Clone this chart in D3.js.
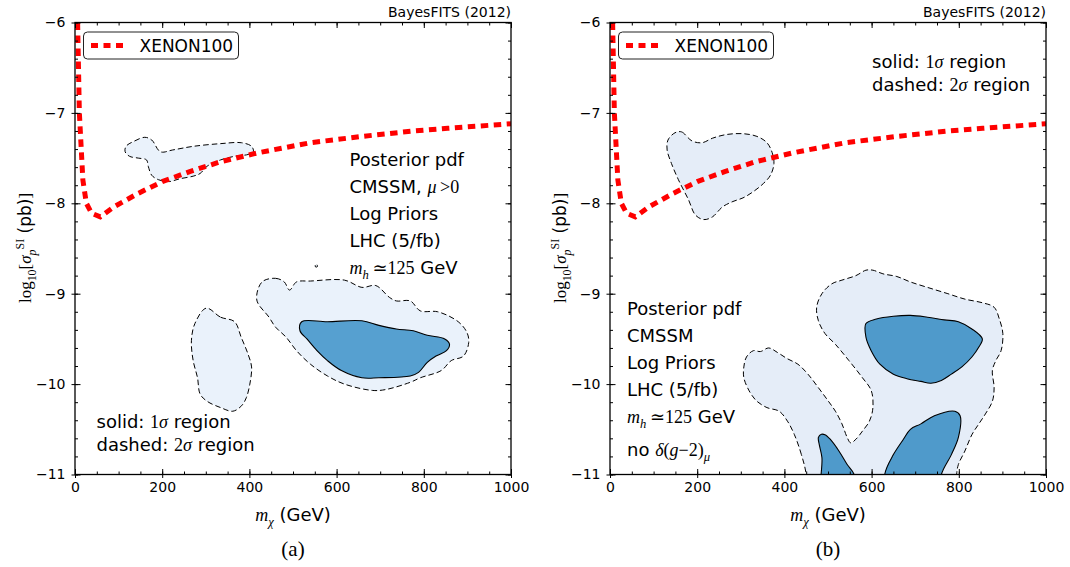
<!DOCTYPE html>
<html>
<head>
<meta charset="utf-8">
<script src="https://cdn.jsdelivr.net/npm/d3@7"></script>
<style>
  html, body { margin: 0; padding: 0; background: #fff; }
  svg { display: block; }
</style>
</head>
<body>
<svg id="fig" width="1070" height="567"></svg>
<script>
// ---- data -----------------------------------------------------------------
// XENON100 90% CL upper limit, log10(sigma_SI / pb) vs neutralino mass (GeV)
const xenonMass = [6, 10, 18, 26, 38, 58, 89, 145, 200, 263, 334, 421, 540, 658, 776, 855, 1000];
const xenonLogSigma = [-6.0, -7.0, -7.74, -8.0, -8.11, -8.15, -8.04, -7.89, -7.76, -7.65, -7.54, -7.44, -7.33, -7.26, -7.2, -7.17, -7.12];

// axis ticks
const xTickValues = [0, 200, 400, 600, 800, 1000];
const yTickValues = [-11, -10, -9, -8, -7, -6];

// panel (a): CMSSM, mu>0, log priors -- credible regions as [mass, log10 sigma]
const a2sigmaUpper = [[117,-7.37],[137,-7.31],[160,-7.27],[176,-7.30],[196,-7.43],[224,-7.41],[271,-7.37],[334,-7.34],[382,-7.33],[405,-7.37],[409,-7.43],[397,-7.46],[366,-7.48],[334,-7.52],[303,-7.59],[287,-7.67],[271,-7.70],[239,-7.73],[216,-7.76],[192,-7.74],[176,-7.69],[168,-7.59],[164,-7.52],[145,-7.50],[125,-7.48],[115,-7.43]];
const a2sigmaLeft = [[301,-9.16],[334,-9.26],[366,-9.31],[381,-9.48],[397,-9.67],[405,-9.81],[401,-10.0],[393,-10.15],[382,-10.24],[362,-10.30],[334,-10.26],[303,-10.19],[287,-10.11],[281,-9.93],[271,-9.74],[267,-9.52],[275,-9.33]];
const a2sigmaMain = [[429,-8.87],[460,-8.83],[480,-8.87],[492,-8.96],[508,-8.87],[540,-8.86],[618,-8.85],[658,-8.93],[690,-8.91],[721,-9.04],[737,-9.08],[769,-9.08],[792,-9.19],[832,-9.20],[879,-9.31],[899,-9.43],[903,-9.54],[891,-9.69],[863,-9.74],[840,-9.85],[792,-9.93],[769,-9.98],[713,-10.06],[682,-10.07],[618,-10.0],[579,-9.91],[540,-9.78],[508,-9.63],[484,-9.48],[460,-9.37],[445,-9.26],[417,-9.07]];
const a2sigmaSpeck = [[551,-8.685],[555,-8.68],[556,-8.70],[552,-8.705]];
const a1sigmaMain = [[520,-9.31],[579,-9.31],[658,-9.30],[697,-9.35],[737,-9.39],[776,-9.41],[808,-9.46],[848,-9.50],[859,-9.56],[852,-9.63],[828,-9.69],[808,-9.76],[788,-9.87],[769,-9.91],[697,-9.93],[658,-9.93],[611,-9.85],[579,-9.74],[555,-9.63],[532,-9.50],[516,-9.41]];

// panel (b): CMSSM, no (g-2)_mu constraint
const b2sigmaUpper = [[149,-7.22],[164,-7.21],[188,-7.31],[211,-7.33],[235,-7.28],[266,-7.24],[305,-7.23],[337,-7.26],[360,-7.33],[372,-7.44],[376,-7.56],[368,-7.69],[352,-7.78],[329,-7.87],[305,-7.94],[282,-7.98],[258,-8.04],[235,-8.15],[215,-8.18],[196,-8.13],[180,-7.96],[157,-7.74],[141,-7.56],[131,-7.41],[133,-7.30]];
const b2sigmaLower = [[450,-11.0],[439,-10.78],[423,-10.56],[407,-10.41],[388,-10.30],[360,-10.26],[337,-10.19],[321,-10.09],[307,-9.93],[307,-9.81],[313,-9.70],[329,-9.63],[345,-9.64],[364,-9.60],[384,-9.65],[407,-9.72],[431,-9.78],[454,-9.89],[478,-10.04],[501,-10.19],[517,-10.30],[532,-10.44],[544,-10.59],[552,-10.65],[564,-10.61],[579,-10.52],[595,-10.41],[603,-10.26],[599,-10.07],[579,-9.93],[548,-9.74],[517,-9.56],[493,-9.44],[478,-9.30],[474,-9.15],[486,-9.0],[509,-8.89],[532,-8.85],[564,-8.80],[587,-8.74],[603,-8.74],[626,-8.78],[658,-8.81],[689,-8.87],[728,-8.93],[775,-9.0],[814,-9.06],[854,-9.10],[881,-9.15],[893,-9.28],[901,-9.44],[897,-9.63],[885,-9.74],[877,-9.85],[881,-10.04],[877,-10.19],[861,-10.33],[846,-10.44],[830,-10.56],[814,-10.74],[799,-10.89],[795,-11.0],[792,-11.3],[620,-11.4],[452,-11.3]];
const b1sigmaUpper = [[587,-9.33],[611,-9.28],[650,-9.25],[689,-9.24],[728,-9.26],[767,-9.29],[799,-9.31],[830,-9.39],[854,-9.50],[846,-9.59],[830,-9.70],[807,-9.81],[783,-9.89],[760,-9.96],[736,-9.99],[713,-9.97],[681,-9.94],[650,-9.89],[619,-9.78],[599,-9.63],[587,-9.48]];
const b1sigmaLowLeft = [[478,-10.59],[485,-10.555],[493,-10.56],[505,-10.61],[525,-10.74],[544,-10.89],[560,-11.0],[566,-11.3],[490,-11.3],[486,-10.81],[480,-10.67]];
const b1sigmaLowRight = [[630,-11.0],[650,-10.78],[673,-10.61],[689,-10.50],[713,-10.44],[744,-10.35],[791,-10.30],[803,-10.35],[799,-10.59],[783,-10.78],[760,-11.0],[755,-11.3],[635,-11.3]];

// ---- styling ----------------------------------------------------------------
const SANS = "'DejaVu Sans', 'Bitstream Vera Sans', sans-serif";
const SERIF = "'Liberation Serif', 'DejaVu Serif', serif";
const FILL2 = ["#eaf2fb", "#e5edf8"];
const FILL1 = ["#56a0d0", "#4f9acb"];

const svg = d3.select("#fig");
svg.append("rect").attr("width", 1070).attr("height", 567).attr("fill", "#fff");

// Write a line of mixed sans / math text. parts: {t, f:'sans'|'serif', i:italic, sub, sup}
function richText(sel, x, y, parts, size, anchor) {
  const t = sel.append("text")
    .attr("x", x).attr("y", y)
    .attr("font-size", size)
    .attr("text-anchor", anchor || "start")
    .attr("fill", "#000");
  let cur = 0;
  parts.forEach(p => {
    const shift = p.sub ? size * 0.3 : p.sup ? -size * 0.42 : 0;
    t.append("tspan")
      .attr("dy", shift - cur)
      .attr("font-family", p.f === "serif" ? SERIF : SANS)
      .attr("font-style", p.i ? "italic" : "normal")
      .attr("font-size", (p.sub || p.sup) ? size * 0.7 : size)
      .text(p.t);
    cur = shift;
  });
  return t;
}

function drawPanel(opt) {
  const top = 22.5, bottom = 474.5;
  const x = d3.scaleLinear().domain([0, 1000]).range([opt.left, opt.right]);
  const y = d3.scaleLinear().domain([-11, -6]).range([bottom, top]);
  const g = svg.append("g");

  const clipId = "clip-" + opt.id;
  svg.append("clipPath").attr("id", clipId)
    .append("rect")
    .attr("x", opt.left).attr("y", top)
    .attr("width", opt.right - opt.left).attr("height", bottom - top);

  const plot = g.append("g").attr("clip-path", `url(#${clipId})`);

  const region = d3.line()
    .x(d => x(d[0])).y(d => y(d[1]))
    .curve(d3.curveCatmullRomClosed.alpha(0.5));

  // 2 sigma (dashed) regions
  opt.outer.forEach(r => {
    plot.append("path").attr("d", region(r))
      .attr("fill", opt.fill2)
      .attr("stroke", "#000").attr("stroke-width", 1)
      .attr("stroke-dasharray", "5.5,3");
  });
  // 1 sigma (solid) regions
  opt.inner.forEach(r => {
    plot.append("path").attr("d", region(r))
      .attr("fill", opt.fill1)
      .attr("stroke", "#000").attr("stroke-width", 1.1);
  });

  // XENON100 limit
  const limit = d3.line()
    .x((d, i) => x(xenonMass[i])).y(d => y(d));
  plot.append("path").attr("d", limit(xenonLogSigma))
    .attr("fill", "none").attr("stroke", "#ff0000")
    .attr("stroke-width", 5).attr("stroke-dasharray", "7.5,5.5");

  // axes: major ticks (labelled), minor ticks, mirrored ticks on top/right
  const axG = g.append("g").attr("font-family", SANS);
  const xMinor = d3.range(0, 1001, 50);
  const yMinor = d3.range(0, 26).map(i => -11 + i * 0.2);

  const fmtY = d => d3.format("d")(d).replace("-", "\u2212");

  axG.append("g").attr("transform", `translate(0,${bottom})`)
    .call(d3.axisBottom(x).tickValues(xMinor).tickSize(-3).tickFormat(""));
  axG.append("g").attr("transform", `translate(0,${bottom})`)
    .call(d3.axisBottom(x).tickValues(xTickValues).tickSize(-5.5).tickPadding(8).tickFormat(d3.format("d")));
  axG.append("g").attr("transform", `translate(0,${bottom})`)
    .call(d3.axisBottom(x).tickValues(xTickValues).tickSize(3.5).tickFormat(""));
  axG.append("g").attr("transform", `translate(0,${top})`)
    .call(d3.axisTop(x).tickValues(xMinor).tickSize(-3).tickFormat(""));
  axG.append("g").attr("transform", `translate(0,${top})`)
    .call(d3.axisTop(x).tickValues(xTickValues).tickSize(-5.5).tickFormat(""));

  axG.append("g").attr("transform", `translate(${opt.left},0)`)
    .call(d3.axisLeft(y).tickValues(yMinor).tickSize(-3).tickFormat(""));
  axG.append("g").attr("transform", `translate(${opt.left},0)`)
    .call(d3.axisLeft(y).tickValues(yTickValues).tickSize(-5.5).tickPadding(9.5).tickFormat(fmtY));
  axG.append("g").attr("transform", `translate(${opt.left},0)`)
    .call(d3.axisLeft(y).tickValues(yTickValues).tickSize(3.5).tickFormat(""));
  axG.append("g").attr("transform", `translate(${opt.right},0)`)
    .call(d3.axisRight(y).tickValues(yMinor).tickSize(-3).tickFormat(""));
  axG.append("g").attr("transform", `translate(${opt.right},0)`)
    .call(d3.axisRight(y).tickValues(yTickValues).tickSize(-5.5).tickFormat(""));

  axG.selectAll(".domain").remove();
  axG.selectAll(".tick line").attr("stroke", "#000").attr("stroke-width", 1);
  axG.selectAll(".tick text").attr("font-size", 14).attr("fill", "#000").attr("font-family", SANS);

  // frame
  g.append("rect")
    .attr("x", opt.left).attr("y", top)
    .attr("width", opt.right - opt.left).attr("height", bottom - top)
    .attr("fill", "none").attr("stroke", "#000").attr("stroke-width", 1.3);

  // top-right tag
  g.append("text").attr("x", opt.right).attr("y", 17)
    .attr("text-anchor", "end").attr("font-family", SANS).attr("font-size", 14)
    .text("BayesFITS (2012)");

  // legend
  const lx = opt.left + 8.5;
  g.append("rect").attr("x", lx).attr("y", 32).attr("width", 155).attr("height", 27)
    .attr("rx", 4).attr("fill", "#fff").attr("stroke", "#222").attr("stroke-width", 1);
  g.append("line").attr("x1", lx + 7.5).attr("x2", lx + 43).attr("y1", 45.5).attr("y2", 45.5)
    .attr("stroke", "#ff0000").attr("stroke-width", 5).attr("stroke-dasharray", "7,5.5");
  g.append("text").attr("x", lx + 56).attr("y", 52)
    .attr("font-family", SANS).attr("font-size", 17).text("XENON100");

  // axis titles
  richText(g, (opt.left + opt.right) / 2, 521,
    [{t: "m", f: "serif", i: true}, {t: "\u03c7", f: "serif", i: true, sub: true}, {t: " (GeV)", f: "sans"}], 18, "middle");

  const yl = g.append("g").attr("transform", `translate(${opt.left - 44},248) rotate(-90)`);
  richText(yl, 0, 0, [
    {t: "log", f: "serif"}, {t: "10", f: "serif", sub: true}, {t: "[", f: "serif"},
    {t: "\u03c3", f: "serif", i: true}, {t: "p", f: "serif", i: true, sub: true},
    {t: "SI", f: "serif", sup: true}, {t: "  (pb)", f: "sans"}, {t: "]", f: "serif"}
  ], 17, "middle");

  // caption
  g.append("text").attr("x", (opt.left + opt.right) / 2).attr("y", 556)
    .attr("text-anchor", "middle").attr("font-family", SERIF).attr("font-size", 21)
    .text(opt.caption);

  opt.annotate(g);
}

const sigmaLines = [
  [{t: "solid: ", f: "sans"}, {t: "1", f: "serif"}, {t: "\u03c3", f: "serif", i: true}, {t: " region", f: "sans"}],
  [{t: "dashed: ", f: "sans"}, {t: "2", f: "serif"}, {t: "\u03c3", f: "serif", i: true}, {t: " region", f: "sans"}]
];
const mhLine = [{t: "m", f: "serif", i: true}, {t: "h", f: "serif", i: true, sub: true}, {t: "\u2009\u2243125", f: "serif"}, {t: " GeV", f: "sans"}];

drawPanel({
  id: "a", left: 75, right: 511, caption: "(a)",
  fill2: FILL2[0], fill1: FILL1[0],
  outer: [a2sigmaUpper, a2sigmaLeft, a2sigmaMain, a2sigmaSpeck],
  inner: [a1sigmaMain],
  annotate: g => {
    const lines = [
      [{t: "Posterior pdf", f: "sans"}],
      [{t: "CMSSM, ", f: "sans"}, {t: "\u03bc", f: "serif", i: true}, {t: "\u2009>0", f: "serif"}],
      [{t: "Log Priors", f: "sans"}],
      [{t: "LHC (5/fb)", f: "sans"}],
      mhLine
    ];
    lines.forEach((l, i) => richText(g, 349.5, 166 + i * 27, l, 18));
    sigmaLines.forEach((l, i) => richText(g, 96.5, 428 + i * 23, l, 18));
  }
});

drawPanel({
  id: "b", left: 610, right: 1046, caption: "(b)",
  fill2: FILL2[1], fill1: FILL1[1],
  outer: [b2sigmaUpper, b2sigmaLower],
  inner: [b1sigmaUpper, b1sigmaLowLeft, b1sigmaLowRight],
  annotate: g => {
    const lines = [
      [{t: "Posterior pdf", f: "sans"}],
      [{t: "CMSSM", f: "sans"}],
      [{t: "Log Priors", f: "sans"}],
      [{t: "LHC (5/fb)", f: "sans"}],
      mhLine
    ];
    lines.forEach((l, i) => richText(g, 627, 315 + i * 27, l, 18));
    richText(g, 627, 456, [
      {t: "no ", f: "sans"}, {t: "\u03b4", f: "serif", i: true}, {t: "(", f: "serif"},
      {t: "g", f: "serif", i: true}, {t: "\u22122)", f: "serif"}, {t: "\u03bc", f: "serif", i: true, sub: true}
    ], 18);
    sigmaLines.forEach((l, i) => richText(g, 872, 68 + i * 23, l, 18));
  }
});
</script>
</body>
</html>
